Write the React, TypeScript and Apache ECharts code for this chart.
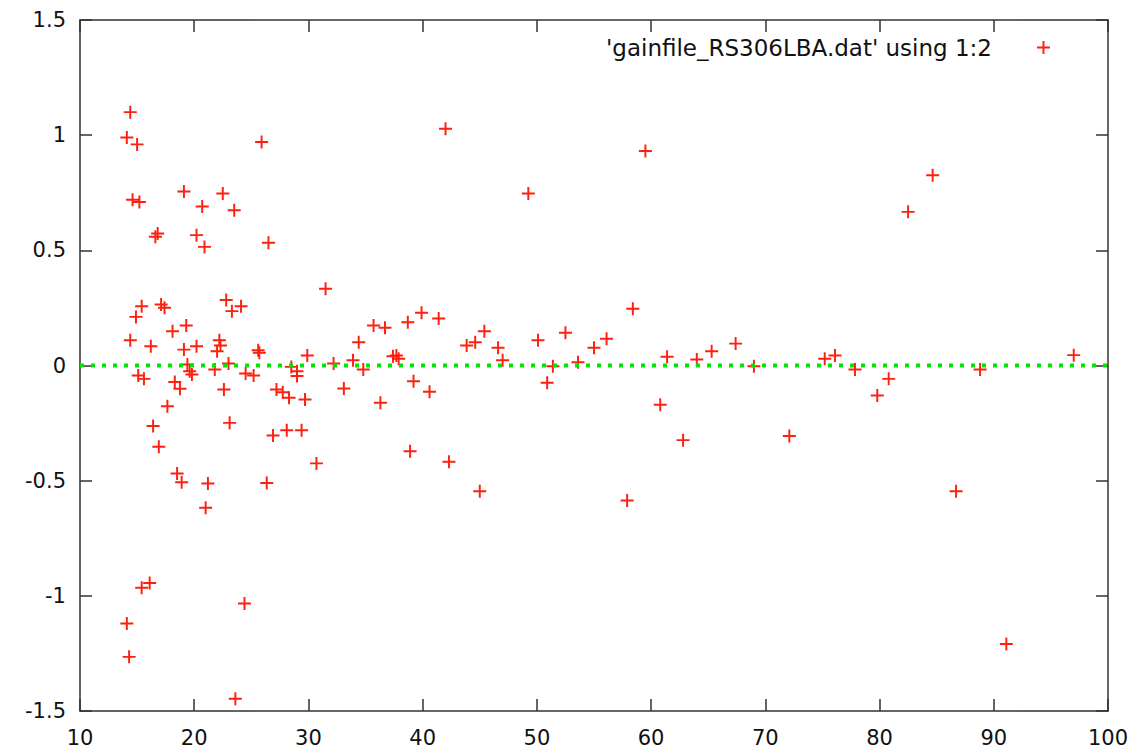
import React, { useEffect, useRef } from "react";
import * as echarts from "echarts";

const seriesName = "'gainfile_RS306LBA.dat' using 1:2";

const xTicks = { min: 10, max: 100, interval: 10 };
const yTicks = { min: -1.5, max: 1.5, interval: 0.5 };

const gainPoints: [number, number][] = [
  [14.4, 1.1], [14.1, 0.99], [15.0, 0.96], [25.9, 0.97], [14.6, 0.72], [15.2, 0.71],
  [19.1, 0.755], [20.7, 0.69], [22.5, 0.747], [23.5, 0.674], [16.8, 0.573], [16.6, 0.559],
  [20.2, 0.566], [20.9, 0.515], [26.5, 0.533], [15.4, 0.257], [17.1, 0.265], [17.4, 0.251],
  [22.8, 0.284], [24.1, 0.257], [14.9, 0.211], [23.3, 0.236], [19.3, 0.174], [18.1, 0.149],
  [14.4, 0.11], [16.2, 0.084], [19.1, 0.069], [20.2, 0.084], [22.2, 0.11], [22.3, 0.087],
  [22.0, 0.062], [25.6, 0.066], [25.7, 0.055], [19.4, 0.004], [23.0, 0.009], [15.1, -0.043],
  [15.6, -0.058], [19.6, -0.025], [19.8, -0.039], [21.8, -0.017], [24.5, -0.035], [25.2, -0.043],
  [18.3, -0.072], [18.75, -0.101], [22.6, -0.104], [27.2, -0.104], [17.65, -0.177], [16.4, -0.263],
  [23.1, -0.249], [16.9, -0.353], [26.9, -0.304], [18.5, -0.469], [18.9, -0.507], [21.2, -0.512],
  [26.35, -0.51], [21.0, -0.618], [15.4, -0.965], [16.1, -0.944], [24.4, -1.033], [14.1, -1.12],
  [14.3, -1.265], [23.6, -1.447], [42.0, 1.028], [49.25, 0.747], [31.5, 0.333], [35.7, 0.174],
  [36.7, 0.164], [38.7, 0.188], [39.9, 0.229], [41.4, 0.204], [45.4, 0.149], [43.85, 0.087],
  [44.6, 0.101], [46.6, 0.077], [47.0, 0.023], [50.1, 0.11], [29.9, 0.043], [34.4, 0.101],
  [33.9, 0.023], [32.2, 0.009], [37.4, 0.04], [37.7, 0.043], [37.9, 0.029], [28.5, -0.006],
  [29.0, -0.025], [34.8, -0.017], [29.0, -0.046], [39.2, -0.068], [50.9, -0.075], [27.75, -0.116],
  [28.3, -0.14], [29.7, -0.148], [33.1, -0.1], [36.3, -0.162], [40.6, -0.114], [28.1, -0.281],
  [29.4, -0.281], [30.7, -0.425], [38.9, -0.372], [42.3, -0.418], [45.0, -0.546], [59.5, 0.931],
  [58.4, 0.246], [52.5, 0.142], [55.0, 0.077], [56.1, 0.116], [53.6, 0.014], [51.4, -0.003],
  [61.4, 0.038], [64.0, 0.026], [65.3, 0.062], [67.4, 0.095], [69.0, -0.003], [75.2, 0.029],
  [60.8, -0.17], [62.8, -0.324], [57.9, -0.586], [72.1, -0.306], [84.65, 0.826], [82.5, 0.667],
  [76.1, 0.043], [77.85, -0.017], [80.8, -0.058], [79.8, -0.13], [88.8, -0.017], [97.0, 0.045],
  [86.7, -0.546], [91.1, -1.209],
];

const zeroLine: [number, number][] = [
  [10, 0],
  [100, 0],
];

const PLUS =
  "path://M-0.15,-1 L0.15,-1 L0.15,-0.15 L1,-0.15 L1,0.15 L0.15,0.15 L0.15,1 L-0.15,1 L-0.15,0.15 L-1,0.15 L-1,-0.15 L-0.15,-0.15 Z";

const RED = "#ff1f0f";
const AXIS = "#333333";
const FONT = "DejaVu Sans";

function axisLine() {
  return { show: true, onZero: false, lineStyle: { color: AXIS, width: 1.5 } };
}
function axisTick() {
  return { show: true, inside: true, length: 12, lineStyle: { color: AXIS, width: 1.5 } };
}
function label(margin: number) {
  return { fontSize: 21, color: "#111", fontFamily: FONT, margin, hideOverlap: false };
}

export default function App() {
  const ref = useRef<HTMLDivElement>(null);

  useEffect(() => {
    if (!ref.current) return;
    const chart = echarts.init(ref.current, undefined, { renderer: "svg" });
    chart.setOption({
      animation: false,
      grid: { left: 80, right: 38, top: 20, bottom: 44, containLabel: false, outerBoundsMode: "none" },
      legend: {
        data: [{ name: seriesName, icon: PLUS }],
        right: 96,
        top: 36,
        padding: 0,
        align: "right",
        itemWidth: 13,
        itemHeight: 13,
        textStyle: { fontSize: 23, color: "#111", fontFamily: FONT, padding: [0, 40, 0, 0] },
        itemStyle: { color: RED },
        selectedMode: false,
      },
      xAxis: [
        {
          type: "value",
          position: "bottom",
          ...xTicks,
          axisLine: axisLine(),
          axisTick: axisTick(),
          axisLabel: label(16),
          splitLine: { show: false },
        },
        {
          type: "value",
          position: "top",
          ...xTicks,
          axisLine: axisLine(),
          axisTick: axisTick(),
          axisLabel: { show: false },
          splitLine: { show: false },
        },
      ],
      yAxis: [
        {
          type: "value",
          position: "left",
          ...yTicks,
          axisLine: axisLine(),
          axisTick: axisTick(),
          axisLabel: label(14),
          splitLine: { show: false },
        },
        {
          type: "value",
          position: "right",
          ...yTicks,
          axisLine: axisLine(),
          axisTick: axisTick(),
          axisLabel: { show: false },
          splitLine: { show: false },
        },
      ],
      series: [
        {
          name: seriesName,
          type: "scatter",
          xAxisIndex: 0,
          yAxisIndex: 0,
          symbol: PLUS,
          symbolSize: 13,
          itemStyle: { color: RED, opacity: 1 },
          data: gainPoints,
          z: 2,
        },
        {
          name: "zero",
          type: "line",
          xAxisIndex: 0,
          yAxisIndex: 0,
          data: zeroLine,
          showSymbol: false,
          symbol: "none",
          silent: true,
          lineStyle: { color: "#00e600", width: 4, type: [4, 7] },
          z: 3,
        },
      ],
    });
    return () => chart.dispose();
  }, []);

  return (
    <div
      ref={ref}
      style={{ position: "fixed", left: 0, top: 0, width: 1146, height: 755, background: "#fff" }}
    />
  );
}
